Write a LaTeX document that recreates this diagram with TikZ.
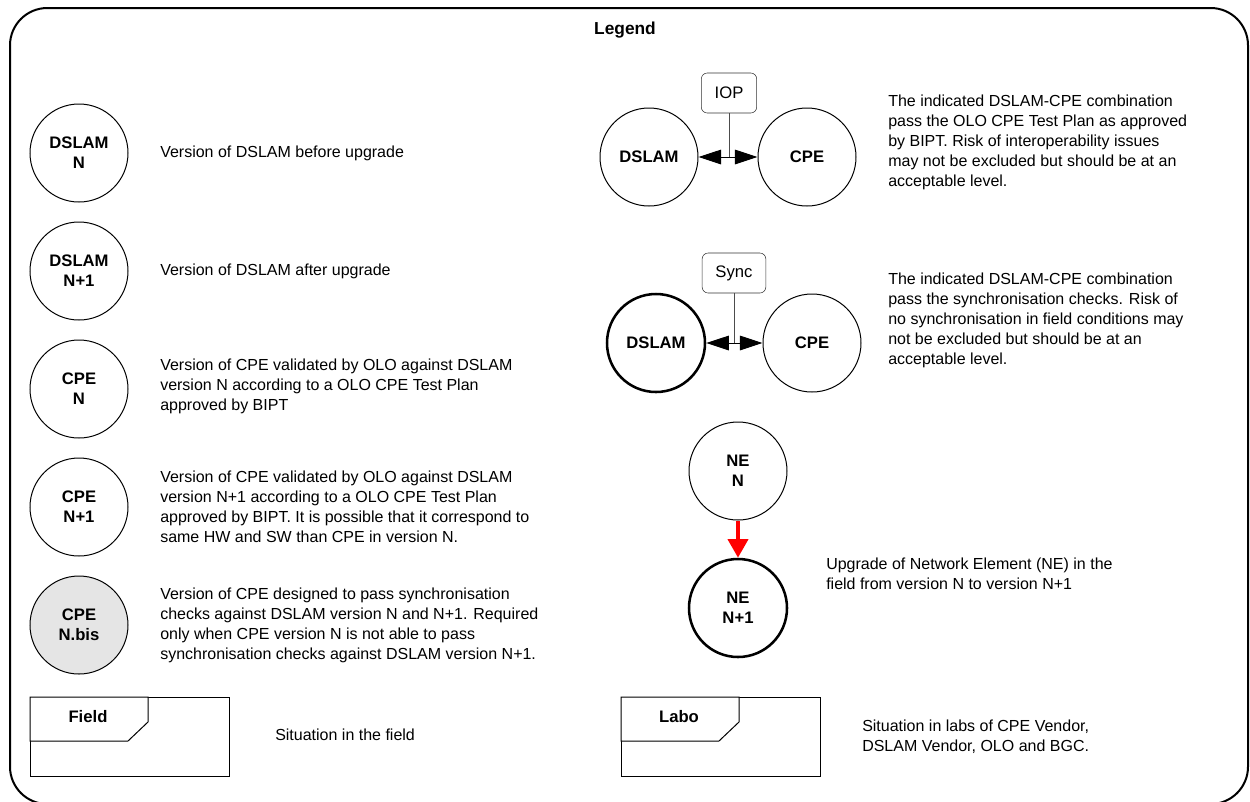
\documentclass[tikz,border=0pt]{standalone}
\usepackage{fontspec}
\setmainfont{Liberation Sans}
\usetikzlibrary{arrows.meta}

\begin{document}
\begin{tikzpicture}[x=0.75pt,y=-0.75pt]
	\tikzstyle{elem} = [shape=circle, draw=black, line width=0.75pt, minimum size=73.5pt, inner sep=0, align=center, font=\fontsize{12.5}{15}\selectfont\bfseries]
	\tikzstyle{elemthick} = [elem, line width=1.9pt]
	\tikzstyle{desc} = [anchor=west, align=left, inner sep=0, font=\fontsize{12}{15}\selectfont]
	\tikzstyle{tag} = [draw=black!80, rounded corners=4.5pt, minimum height=30pt, inner xsep=10pt, font=\fontsize{12.5}{15}\selectfont]
	\tikzstyle{link} = [{Triangle[length=17pt,width=11pt]}-{Triangle[length=17pt,width=11pt]}, line width=0.75pt]
	\tikzstyle{upgrade} = [-{Triangle[length=14pt,width=15pt]}, line width=3pt, red]

	\useasboundingbox (0,0) rectangle (1250,801);
	\draw [line width=1.5pt, rounded corners=28pt] (10,8) rectangle (1248,804);
	\node [font=\fontsize{13}{15}\selectfont\bfseries] (title) at (625,30) {Legend};

	% left column
	\node [elem] (dslamN) at (79,153) {DSLAM\\N};
	\node [elem] (dslamNp) at (79,271) {DSLAM\\N+1};
	\node [elem] (cpeN) at (79,389) {CPE\\N};
	\node [elem] (cpeNp) at (79,507) {CPE\\N+1};
	\node [elem, fill=black!10] (cpeNbis) at (79,625) {CPE\\N.bis};

	\node [desc] (dDslamN) at (160,153) {Version of DSLAM before upgrade};
	\node [desc] (dDslamNp) at (160,271) {Version of DSLAM after upgrade};
	\node [desc] (dCpeN) at (160,386) {Version of CPE validated by OLO against DSLAM\\version N according to a OLO CPE Test Plan\\approved by BIPT};
	\node [desc] (dCpeNp) at (160,507) {Version of CPE validated by OLO against DSLAM\\version N+1 according to a OLO CPE Test Plan\\approved by BIPT. It is possible that it correspond to\\same HW and SW than CPE in version N.};
	\node [desc] (dCpeNbis) at (160,625) {Version of CPE designed to pass synchronisation\\checks against DSLAM version N and N+1. Required\\only when CPE version N is not able to pass\\synchronisation checks against DSLAM version N+1.};

	% right column
	\node [elem] (dslamA) at (649,157) {DSLAM};
	\node [elem] (cpeA) at (807,157) {CPE};
	\node [tag] (iop) at (729,93) {IOP};
	\draw [link] (dslamA) -- (cpeA);
	\draw [black!70] (iop) -- (iop |- dslamA);
	\node [desc] (dIop) at (888,142) {The indicated DSLAM-CPE combination\\pass the OLO CPE Test Plan as approved\\by BIPT. Risk of interoperability issues\\may not be excluded but should be at an\\acceptable level.};

	\node [elemthick] (dslamB) at (656,343) {DSLAM};
	\node [elem] (cpeB) at (812,343) {CPE};
	\node [tag] (sync) at (734,273) {Sync};
	\draw [link] (dslamB) -- (cpeB);
	\draw [black!70] (sync) -- (sync |- dslamB);
	\node [desc] (dSync) at (888,320) {The indicated DSLAM-CPE combination\\pass the synchronisation checks. Risk of\\no synchronisation in field conditions may\\not be excluded but should be at an\\acceptable level.};

	\node [elem] (neA) at (738,471) {NE\\N};
	\node [elemthick] (neB) at (738,608) {NE\\N+1};
	\draw [upgrade] (neA) -- (neB);
	\node [desc] (dNe) at (826,574) {Upgrade of Network Element (NE) in the\\field from version N to version N+1};

	% situation boxes
	\foreach \x/\t/\n in {30/Field/field, 621/Labo/labo}
	{
		\draw [line width=0.75pt] (\x,697) rectangle (\x+199,776);
		\draw [line width=0.75pt, fill=white] (\x,697) -- (\x+118,697) -- (\x+118,722) -- (\x+98,741) -- (\x,741) -- cycle;
		\node [font=\fontsize{12.5}{15}\selectfont\bfseries] (\n) at (\x+58,717) {\t};
	}
	\node [desc] (dField) at (275,735) {Situation in the field};
	\node [desc] (dLabo) at (862,737) {Situation in labs of CPE Vendor,\\DSLAM Vendor, OLO and BGC.};
\end{tikzpicture}
\end{document}
